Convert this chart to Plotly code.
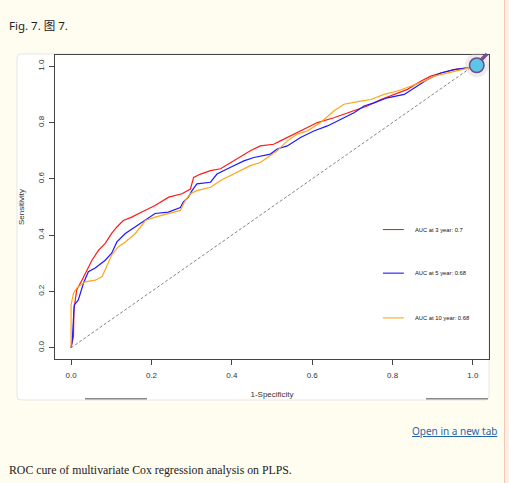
import plotly.graph_objects as go

# ==========================================
# Data
# ==========================================

fpr_3yr = [0.000, 0.006, 0.007, 0.014, 0.027, 0.039, 0.052, 0.068, 0.085, 0.101,
           0.114, 0.130, 0.151, 0.176, 0.209, 0.243, 0.276, 0.297, 0.305, 0.322,
           0.347, 0.372, 0.397, 0.421, 0.446, 0.471, 0.504, 0.521, 0.554, 0.579,
           0.613, 0.654, 0.688, 0.712, 0.737, 0.771, 0.804, 0.837, 0.870, 0.895,
           0.920, 0.953, 0.987, 1.000]
tpr_3yr = [0.000, 0.040, 0.134, 0.205, 0.240, 0.276, 0.311, 0.346, 0.371, 0.406,
           0.429, 0.452, 0.464, 0.482, 0.505, 0.535, 0.547, 0.564, 0.605, 0.617,
           0.629, 0.636, 0.658, 0.676, 0.700, 0.717, 0.723, 0.735, 0.759, 0.776,
           0.800, 0.817, 0.835, 0.847, 0.859, 0.882, 0.900, 0.918, 0.947, 0.965,
           0.976, 0.988, 0.994, 1.000]

fpr_5yr = [0.000, 0.003, 0.008, 0.018, 0.031, 0.043, 0.060, 0.085, 0.101, 0.114,
           0.135, 0.160, 0.185, 0.209, 0.242, 0.272, 0.279, 0.292, 0.301, 0.313,
           0.347, 0.363, 0.397, 0.430, 0.455, 0.496, 0.513, 0.538, 0.571, 0.604,
           0.638, 0.679, 0.704, 0.729, 0.754, 0.787, 0.829, 0.854, 0.887, 0.920,
           0.953, 0.987, 1.000]
tpr_5yr = [0.000, 0.028, 0.152, 0.170, 0.230, 0.270, 0.283, 0.311, 0.336, 0.376,
           0.406, 0.429, 0.452, 0.477, 0.482, 0.498, 0.517, 0.535, 0.558, 0.582,
           0.588, 0.617, 0.641, 0.664, 0.676, 0.688, 0.706, 0.717, 0.747, 0.770,
           0.788, 0.817, 0.835, 0.859, 0.870, 0.888, 0.900, 0.923, 0.953, 0.976,
           0.988, 0.994, 1.000]

fpr_10yr = [0.000, 0.000, 0.006, 0.014, 0.035, 0.060, 0.077, 0.093, 0.101, 0.117,
            0.135, 0.160, 0.185, 0.209, 0.242, 0.272, 0.284, 0.297, 0.313, 0.347,
            0.372, 0.397, 0.421, 0.446, 0.471, 0.496, 0.513, 0.538, 0.563, 0.588,
            0.621, 0.654, 0.679, 0.721, 0.746, 0.779, 0.812, 0.845, 0.879, 0.904,
            0.937, 0.970, 0.991, 1.000]
tpr_10yr = [0.000, 0.152, 0.194, 0.212, 0.234, 0.240, 0.252, 0.300, 0.329, 0.358,
            0.376, 0.406, 0.452, 0.464, 0.477, 0.488, 0.523, 0.547, 0.558, 0.570,
            0.594, 0.611, 0.629, 0.647, 0.658, 0.682, 0.700, 0.735, 0.759, 0.770,
            0.800, 0.841, 0.865, 0.876, 0.882, 0.900, 0.912, 0.929, 0.947, 0.965,
            0.976, 0.988, 0.994, 1.000]

legend_labels = ["AUC at 3 year: 0.7", "AUC at 5 year: 0.68", "AUC at 10 year: 0.68"]
line_colors = ["#ff1a1a", "#1a1aff", "#ffa51a"]
legend_y = [0.42, 0.265, 0.106]

tick_vals = [0.0, 0.2, 0.4, 0.6, 0.8, 1.0]
tick_text = ["0.0", "0.2", "0.4", "0.6", "0.8", "1.0"]
diag = [0, 1]

# ==========================================
# Page geometry helpers (pixel -> paper)
# ==========================================

W, H = 509, 483
ML, MR, MT, MB = 55, 20, 55, 124
PW, PH = W - ML - MR, H - MT - MB


def px(x):
    return (x - ML) / PW


def py(y):
    return (H - MB - y) / PH


BG = "#fffcf0"

# ==========================================
# Figure
# ==========================================

fig = go.Figure()

fig.add_trace(go.Scatter(
    x=diag, y=diag, mode="lines",
    line=dict(color="#666666", width=0.8, dash="3px,2px"),
    hoverinfo="skip"
))

series = [(fpr_3yr, tpr_3yr), (fpr_5yr, tpr_5yr), (fpr_10yr, tpr_10yr)]
for (fx, ty), name, col in zip(series, legend_labels, line_colors):
    fig.add_trace(go.Scatter(
        x=fx, y=ty, mode="lines", name=name,
        line=dict(color=col, width=1.2)
    ))

# Legend drawn R-style inside the plot
for name, col, ly in zip(legend_labels, line_colors, legend_y):
    fig.add_shape(type="line", xref="x", yref="y",
                  x0=0.776, x1=0.828, y0=ly, y1=ly,
                  line=dict(color=col, width=1.1))
    fig.add_annotation(x=0.851, y=ly, xref="x", yref="y", text=name,
                       showarrow=False, xanchor="left", yanchor="middle",
                       font=dict(family="Liberation Sans, Arial", size=5.8, color="#111"))

# White card behind the figure image (rounded corners)
x0, x1, y0, y1 = px(17), px(489), py(54), py(400)
rx, ry = 4 / PW, 4 / PH
card = (f"M {x0+rx},{y0} L {x1},{y0} L {x1},{y1+ry} Q {x1},{y1} {x1-rx},{y1} "
        f"L {x0+rx},{y1} Q {x0},{y1} {x0},{y1+ry} L {x0},{y0-ry} Q {x0},{y0} {x0+rx},{y0} Z")
fig.add_shape(type="path", xref="paper", yref="paper", path=card,
              fillcolor="white", line=dict(color="#e6e6e6", width=1), layer="below")

# scrollbar-like grey bars at bottom of card
for a, b in [(85, 147), (426, 488)]:
    fig.add_shape(type="line", xref="paper", yref="paper",
                  x0=px(a), x1=px(b), y0=py(398.7), y1=py(398.7),
                  line=dict(color="#8a8a8a", width=1.5))

# magnifier icon top-right
fig.add_shape(type="circle", xref="paper", yref="paper",
              x0=px(465), x1=px(489), y0=py(53), y1=py(77),
              fillcolor="rgba(200,200,200,0.35)", line=dict(width=0))
fig.add_shape(type="line", xref="paper", yref="paper",
              x0=px(481), x1=px(487), y0=py(60), y1=py(54),
              line=dict(color="#7b4f91", width=3.5))
fig.add_shape(type="circle", xref="paper", yref="paper",
              x0=px(469.5), x1=px(484), y0=py(58), y1=py(72.5),
              fillcolor="#5cc6e8", line=dict(color="#6f4a8e", width=1.5))

# right page border strip
fig.add_shape(type="rect", xref="paper", yref="paper",
              x0=px(504), x1=px(509.5), y0=py(-1), y1=py(484),
              fillcolor="#fcefe2", line=dict(width=0))
fig.add_shape(type="line", xref="paper", yref="paper",
              x0=px(504.5), x1=px(504.5), y0=py(-1), y1=py(484),
              line=dict(color="#f1cbb8", width=1))

# page texts
fig.add_annotation(x=px(7), y=py(26), xref="paper", yref="paper",
                   text="Fig. 7. 图 7.", showarrow=False,
                   xanchor="left", yanchor="middle",
                   font=dict(family="Noto Sans, Noto Sans CJK SC", size=11.5, color="#222"))
fig.add_annotation(x=px(499), y=py(431), xref="paper", yref="paper",
                   text="<u>Open in a new tab</u>", showarrow=False,
                   xanchor="right", yanchor="middle",
                   font=dict(family="Noto Sans", size=10, color="#1f67a8"))
fig.add_annotation(x=px(7), y=py(470), xref="paper", yref="paper",
                   text="ROC cure of multivariate Cox regression analysis on PLPS.",
                   showarrow=False, xanchor="left", yanchor="middle",
                   font=dict(family="Liberation Serif", size=11.8, color="#222"))

axis_font = dict(family="Liberation Sans, Arial", size=8, color="#333")

fig.update_xaxes(
    range=[-0.04, 1.04], tickvals=tick_vals, ticktext=tick_text,
    showgrid=False, zeroline=False, showline=True, mirror=True,
    linecolor="#444", linewidth=1, ticks="outside", ticklen=5,
    tickcolor="#444", tickfont=axis_font, ticklabelstandoff=3,
    title=dict(text="1-Specificity", font=axis_font, standoff=12)
)
fig.update_yaxes(
    range=[-0.04, 1.04], tickvals=tick_vals, ticktext=tick_text,
    showgrid=False, zeroline=False, showline=True, mirror=True,
    linecolor="#444", linewidth=1, ticks="outside", ticklen=5,
    tickcolor="#444", tickfont=axis_font, tickangle=-90, ticklabelstandoff=2,
    title=dict(text="Sensitivity", font=axis_font, standoff=10)
)

fig.update_layout(
    width=W, height=H,
    margin=dict(l=ML, r=MR, t=MT, b=MB),
    paper_bgcolor=BG, plot_bgcolor="white",
    showlegend=False
)

# drop the browser's default body margin so the figure fills the window
fig.write_html(
    "out.html",
    config={"displayModeBar": False},
    post_script="document.body.style.margin='0px';"
                "document.body.style.background='" + BG + "';"
)
